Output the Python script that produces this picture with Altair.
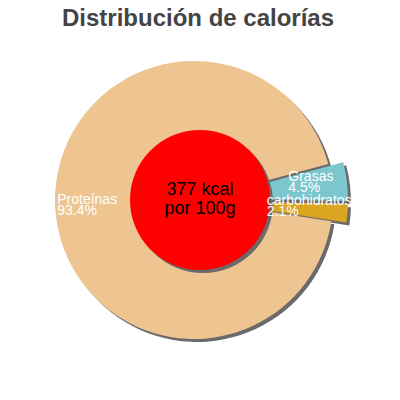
import math
import altair as alt
import pandas as pd

# ---- data ----
categories = ["Grasas", "carbohidratos", "Proteínas"]
percents = [4.5, 2.1, 93.4]
colors = ["#7cc6ce", "#daa520", "#eec591"]
exploded = [True, True, False]
center_lines = ["377 kcal", "por 100g"]
title_text = "Distribución de calorías"

df = pd.DataFrame({
    "cat": categories,
    "pct": percents,
    "order": list(range(len(categories))),
    "explode": exploded,
})
df_center = pd.DataFrame({"txt": ["\n".join(center_lines)]})
df_title = pd.DataFrame({"txt": [title_text]})

# ---- geometry / style ----
START = math.radians(75)
CX, CY = 186, 184
R = 139
EX = 15
SH = 3
SHADOW = "#6a6a6a"

theta_scale = alt.Scale(domain=[0, 100], range=[START, START + 2 * math.pi])

base = (
    alt.Chart(df)
    .transform_window(cum="sum(pct)", sort=[alt.SortField("order")], frame=[None, 0])
    .transform_calculate(t0="datum.cum - datum.pct", mid="datum.cum - datum.pct / 2")
    .transform_calculate(
        ang=f"{START} + datum.mid / 100 * 2 * PI",
        off=f"datum.explode ? {EX} : 0",
    )
    .transform_calculate(
        px=f"{CX} + datum.off * sin(datum.ang)",
        py=f"{CY} - datum.off * cos(datum.ang)",
        label="datum.cat + '\\n' + format(datum.pct, '.1f') + '%'",
    )
    .transform_calculate(sx=f"datum.px + {SH}", sy=f"datum.py + {SH}")
)

shadow = base.mark_arc(radius=R, color=SHADOW).encode(
    x=alt.X("sx:Q", scale=None),
    y=alt.Y("sy:Q", scale=None),
    theta=alt.Theta("t0:Q", scale=theta_scale),
    theta2="cum:Q",
)

slices = base.mark_arc(radius=R).encode(
    x=alt.X("px:Q", scale=None),
    y=alt.Y("py:Q", scale=None),
    theta=alt.Theta("t0:Q", scale=theta_scale),
    theta2="cum:Q",
    color=alt.Color("cat:N", scale=alt.Scale(domain=categories, range=colors), legend=None),
)

RC_X, RC_Y = 192, 184
circle_size = (2 * 70) ** 2
red_shadow = alt.Chart(df_center).mark_circle(size=circle_size, color=SHADOW, opacity=1).encode(
    x=alt.value(RC_X + SH), y=alt.value(RC_Y + SH)
)
red = alt.Chart(df_center).mark_circle(size=circle_size, color="#ff0000", opacity=1).encode(
    x=alt.value(RC_X), y=alt.value(RC_Y)
)

center_text = alt.Chart(df_center).mark_text(
    lineBreak="\n", fontSize=18, font="Liberation Sans", color="black",
    align="center", baseline="middle", lineHeight=19,
).encode(x=alt.value(RC_X), y=alt.value(RC_Y - 10), text="txt:N")

label_layers = []
for cat, r, dy in [("Proteínas", 137, -7), ("Grasas", 80, -12), ("carbohidratos", 58, -5)]:
    label_layers.append(
        base.transform_filter(alt.datum.cat == cat)
        .mark_text(align="left", baseline="middle", lineBreak="\n", fontSize=14,
                   font="Liberation Sans", color="white", lineHeight=11, dy=dy)
        .encode(
            x=alt.X("px:Q", scale=None),
            y=alt.Y("py:Q", scale=None),
            theta=alt.Theta("mid:Q", scale=theta_scale),
            radius=alt.value(r),
            text="label:N",
        )
    )

title = alt.Chart(df_title).mark_text(
    fontSize=24, font="Liberation Sans", fontWeight="bold", color="#444444",
    align="center", baseline="alphabetic",
).encode(x=alt.value(190), y=alt.value(10), text="txt:N")

chart = alt.layer(
    shadow, slices, red_shadow, red, *label_layers, center_text, title
).properties(
    width=384, height=376, autosize=alt.AutoSizeParams(type="none"),
    padding={"top": 8, "left": 0, "right": 0, "bottom": 0},
    background="white",
).configure_view(stroke=None)

chart.save("out.html", embed_options={"renderer": "svg", "actions": False})
